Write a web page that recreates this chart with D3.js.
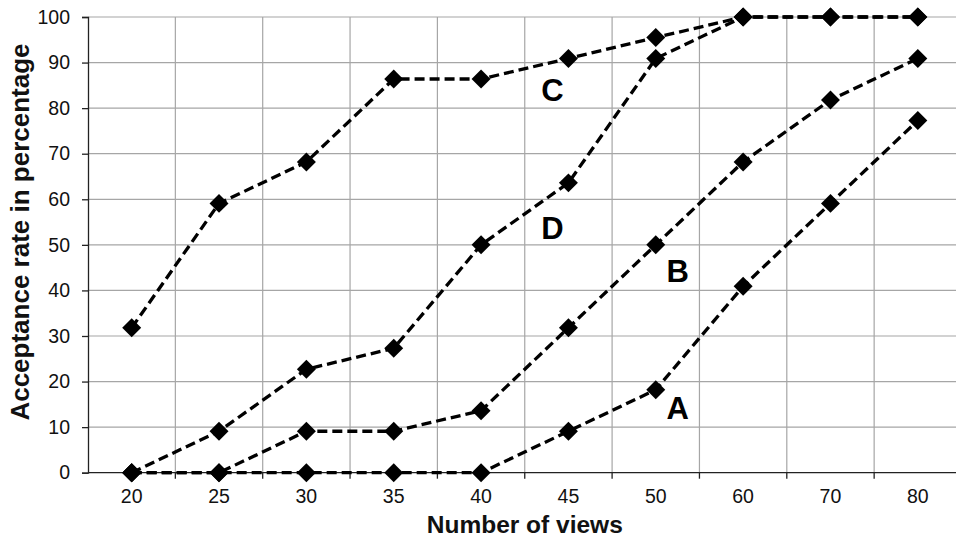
<!DOCTYPE html>
<html>
<head>
<meta charset="utf-8">
<script src="https://cdn.jsdelivr.net/npm/d3@7/dist/d3.min.js"></script>
<style>
  html, body { margin: 0; padding: 0; background: #fff; overflow: hidden; }
  svg { display: block; font-family: "Liberation Sans", Arial, sans-serif; }
</style>
</head>
<body>
<svg id="chart" width="956" height="541"></svg>
<script>
// Number of views (categorical axis)
const views = ["20", "25", "30", "35", "40", "45", "50", "60", "70", "80"];
// Acceptance rate (%) for each configuration
const seriesA = [0, 0, 0, 0, 0, 9.1, 18.2, 40.9, 59.1, 77.3];
const seriesB = [0, 0, 9.1, 9.1, 13.6, 31.8, 50, 68.2, 81.8, 90.9];
const seriesC = [31.8, 59.1, 68.2, 86.4, 86.4, 90.9, 95.5, 100, 100, 100];
const seriesD = [0, 9.1, 22.7, 27.3, 50, 63.6, 90.9, 100, 100, 100];
const yTicks = [0, 10, 20, 30, 40, 50, 60, 70, 80, 90, 100];

// Series name labels, anchored to a category and a value
const labels = [
  { name: "C", at: "45", value: 81.5, dx: -16 },
  { name: "D", at: "45", value: 51.3, dx: -16 },
  { name: "B", at: "50", value: 41.9, dx: 22 },
  { name: "A", at: "50", value: 11.7, dx: 22 }
];

const series = [seriesA, seriesB, seriesC, seriesD];

const svg = d3.select("#chart");
const plotLeft = 88, plotRight = 961.5, plotTop = 17, plotBottom = 472.7;

const x = d3.scaleBand().domain(views).range([plotLeft, plotRight]);
const y = d3.scaleLinear().domain([0, 100]).range([plotBottom, plotTop]);
const cx = d => x(d) + x.bandwidth() / 2;

// Horizontal gridlines
svg.append("g")
  .selectAll("line")
  .data(yTicks.slice(1))
  .join("line")
  .attr("x1", plotLeft).attr("x2", plotRight)
  .attr("y1", d => y(d)).attr("y2", d => y(d))
  .attr("stroke", "#a6a6a6").attr("stroke-width", 1.2);

// Vertical gridlines at category boundaries
svg.append("g")
  .selectAll("line")
  .data(views.slice(1))
  .join("line")
  .attr("x1", d => x(d)).attr("x2", d => x(d))
  .attr("y1", plotTop).attr("y2", plotBottom)
  .attr("stroke", "#a6a6a6").attr("stroke-width", 1.2);

// Y axis
const yAxis = svg.append("g")
  .attr("transform", `translate(${plotLeft},0)`)
  .call(d3.axisLeft(y).tickValues(yTicks).tickSize(6).tickPadding(12));
yAxis.select(".domain").attr("stroke", "#222").attr("stroke-width", 1.3);
yAxis.selectAll(".tick line").attr("stroke", "#222").attr("stroke-width", 1.3);
yAxis.selectAll("text").attr("font-size", 19.5).attr("fill", "#111")
  .attr("font-family", "Liberation Sans, Arial, sans-serif");

// X axis: ticks between categories
const xAxis = svg.append("g")
  .attr("transform", `translate(0,${plotBottom})`);
xAxis.append("line")
  .attr("x1", plotLeft).attr("x2", plotRight)
  .attr("stroke", "#222").attr("stroke-width", 1.3);
xAxis.selectAll("line.tk")
  .data(views.slice(1))
  .join("line").attr("class", "tk")
  .attr("x1", d => x(d)).attr("x2", d => x(d))
  .attr("y1", 0).attr("y2", 6)
  .attr("stroke", "#222").attr("stroke-width", 1.3);
xAxis.selectAll("text")
  .data(views)
  .join("text")
  .attr("x", d => cx(d))
  .attr("y", 30)
  .attr("text-anchor", "middle")
  .attr("font-size", 19.5)
  .attr("fill", "#111")
  .text(d => d);

// Axis titles
svg.append("text")
  .attr("x", (plotLeft + plotRight) / 2)
  .attr("y", 533)
  .attr("text-anchor", "middle")
  .attr("font-size", 24.5)
  .attr("font-weight", "bold")
  .attr("fill", "#111")
  .text("Number of views");

svg.append("text")
  .attr("transform", "translate(29,232) rotate(-90)")
  .attr("text-anchor", "middle")
  .attr("font-size", 26)
  .attr("font-weight", "bold")
  .attr("fill", "#111")
  .text("Acceptance rate in percentage");

// Dashed lines joining the points
const line = d3.line()
  .x((d, i) => cx(views[i]))
  .y(d => y(d));

svg.append("g")
  .selectAll("path")
  .data(series)
  .join("path")
  .attr("d", line)
  .attr("fill", "none")
  .attr("stroke", "#000")
  .attr("stroke-width", 3.3)
  .attr("stroke-dasharray", "10,5");

// Diamond markers
const diamond = d3.symbol().type(d3.symbolSquare).size(180);
series.forEach(s => {
  svg.append("g")
    .selectAll("path")
    .data(s)
    .join("path")
    .attr("d", diamond)
    .attr("transform", (d, i) => `translate(${cx(views[i])},${y(d)}) rotate(45)`)
    .attr("fill", "#000");
});

// Series name labels
svg.append("g")
  .selectAll("text")
  .data(labels)
  .join("text")
  .attr("x", d => cx(d.at) + d.dx)
  .attr("y", d => y(d.value))
  .attr("text-anchor", "middle")
  .attr("font-size", 31)
  .attr("font-weight", "bold")
  .attr("fill", "#000")
  .text(d => d.name);
</script>
</body>
</html>
